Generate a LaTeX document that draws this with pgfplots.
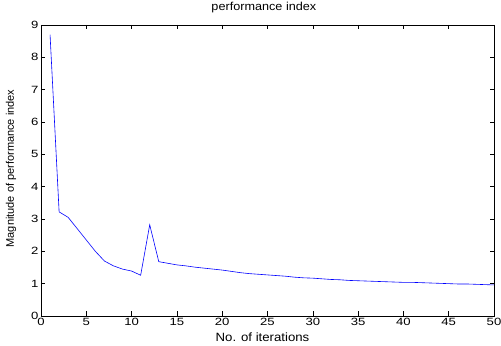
\documentclass[border=0pt]{standalone}
\usepackage{pgfplots}
\pgfplotsset{compat=1.18}
\usepackage{fontspec}
\setmainfont{Liberation Sans}
\newfontfamily\tickfont[FakeStretch=1.25]{Liberation Sans}
\newfontfamily\labfont[FakeStretch=1.1]{Liberation Sans}
\begin{document}
\begin{tikzpicture}
\begin{axis}[
  scale only axis,
  width=453pt, height=291pt,
  xmin=0, xmax=50, ymin=0, ymax=9,
  xtick={0,5,...,50}, ytick={0,1,...,9},
  tick align=inside,
  major tick length=4.5pt,
  tick style={black, line width=0.6pt},
  axis line style={line width=0.8pt},
  /pgf/number format/assume math mode=true,
  tick label style={font=\tickfont\fontsize{10.5}{12}\selectfont},
  xticklabel style={yshift=1pt},
  yticklabel style={xshift=1pt},
  title={performance index},
  title style={font=\labfont\fontsize{11.5}{12}\selectfont, at={(axis description cs:0.492,1.041)}, anchor=center},
  xlabel={No. of iterations},
  xlabel style={font=\labfont\fontsize{12}{12}\selectfont, at={(axis description cs:0.489,-0.072)}, anchor=center},
  ylabel={Magnitude of performance index},
  ylabel style={font=\fontsize{11}{12}\selectfont, at={(axis description cs:-0.066,0.507)}, anchor=center},
  clip=false,
]
\addplot[blue, line width=0.6pt] coordinates {
(1,8.7) (2,3.22) (3,3.05) (4,2.7) (5,2.35) (6,2.0) (7,1.7) (8,1.55) (9,1.45) (10,1.39)
(11,1.26) (12,2.82) (13,1.68) (14,1.63) (15,1.58) (16,1.55) (17,1.51) (18,1.48) (19,1.45) (20,1.42)
(21,1.38) (22,1.34) (23,1.31) (24,1.29) (25,1.27) (26,1.25) (27,1.23) (28,1.2) (29,1.18) (30,1.17)
(31,1.15) (32,1.13) (33,1.12) (34,1.1) (35,1.09) (36,1.08) (37,1.07) (38,1.06) (39,1.05) (40,1.04)
(41,1.04) (42,1.03) (43,1.02) (44,1.01) (45,1.0) (46,0.99) (47,0.99) (48,0.98) (49,0.97) (50,0.96)
};
\coordinate (bbl) at (axis description cs:-0.0905,-0.1031);
\coordinate (btr) at (axis description cs:1.01545,1.0859);
\end{axis}
\pgfresetboundingbox
\path (bbl) rectangle (btr);
\end{tikzpicture}
\end{document}
